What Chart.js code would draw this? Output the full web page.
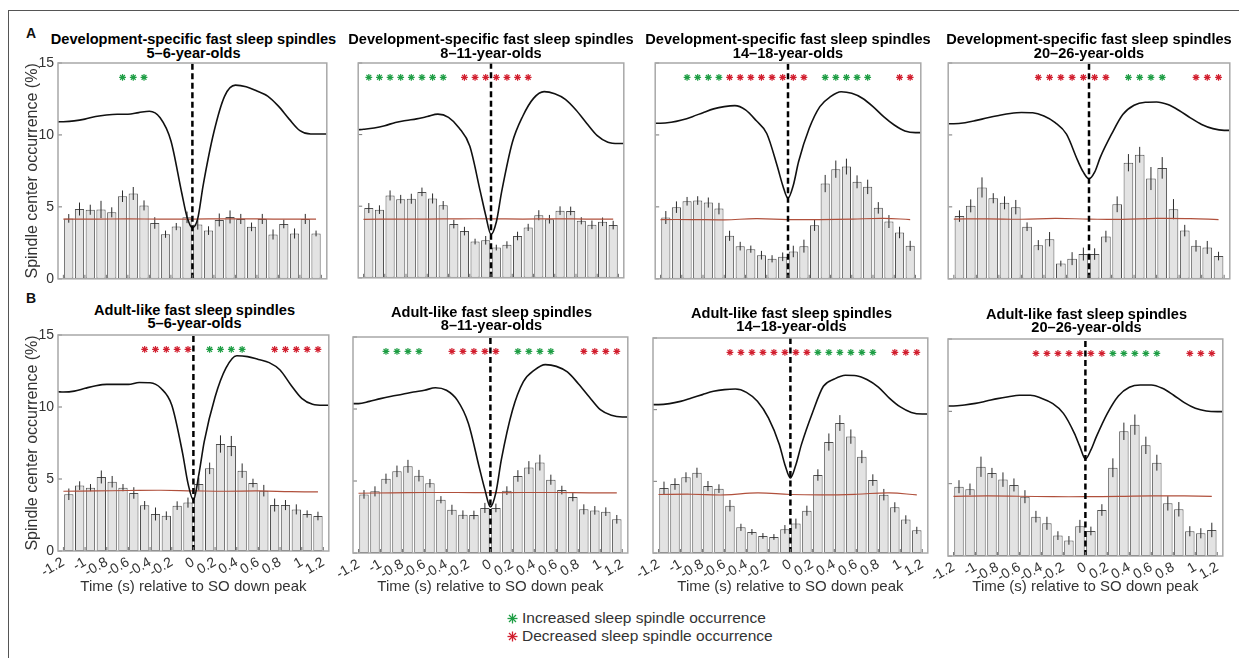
<!DOCTYPE html>
<html>
<head>
<meta charset="utf-8">
<script src="https://cdn.jsdelivr.net/npm/chart.js@4.4.1/dist/chart.umd.min.js"></script>
<style>
  body { margin: 0; background: #fff; width: 1239px; height: 658px; overflow: hidden; position: relative;
         font-family: "Liberation Sans", Arial, Helvetica, sans-serif; }
  .frame { position: absolute; left: 8px; top: 10px; width: 1240px; height: 660px;
           border-left: 1px solid #555; border-top: 1px solid #555; }
  canvas { position: absolute; }
  .letter { position: absolute; font-weight: bold; font-size: 14px; line-height: 16px; color: #111; }
  .ptitle { position: absolute; width: 340px; text-align: center; font-weight: bold; font-size: 14.6px;
            color: #000; white-space: nowrap; }
  .legend { position: absolute; left: 507px; font-size: 15.5px; line-height: 18px; color: #333; white-space: nowrap; }
  .legend svg { vertical-align: -1px; margin-right: 4px; }
</style>
</head>
<body>
<div class="frame"></div>
<div class="letter" style="left:26px;top:25px">A</div>
<div class="letter" style="left:26px;top:290px">B</div>
<div class="legend" style="top:609px">
  <svg width="11" height="11" viewBox="0 0 11 11"><g stroke="#1f9e45" stroke-width="1.3">
    <line x1="0.5" y1="5.5" x2="10.5" y2="5.5"/><line x1="5.5" y1="0.5" x2="5.5" y2="10.5"/>
    <line x1="2" y1="2" x2="9" y2="9"/><line x1="9" y1="2" x2="2" y2="9"/></g></svg>Increased sleep spindle occurrence
</div>
<div class="legend" style="top:627px">
  <svg width="11" height="11" viewBox="0 0 11 11"><g stroke="#d21f2f" stroke-width="1.3">
    <line x1="0.5" y1="5.5" x2="10.5" y2="5.5"/><line x1="5.5" y1="0.5" x2="5.5" y2="10.5"/>
    <line x1="2" y1="2" x2="9" y2="9"/><line x1="9" y1="2" x2="2" y2="9"/></g></svg>Decreased sleep spindle occurrence
</div>
<script>
// bins and axes
const binTimes = [-1.15,-1.05,-0.95,-0.85,-0.75,-0.65,-0.55,-0.45,-0.35,-0.25,-0.15,-0.05,
                  0.05,0.15,0.25,0.35,0.45,0.55,0.65,0.75,0.85,0.95,1.05,1.15];
const curveTimes = [-1.25,-1.2,-1.1,-1.0,-0.9,-0.8,-0.7,-0.6,-0.5,-0.4,-0.3,-0.2,-0.1,-0.05,0,
                    0.05,0.1,0.2,0.3,0.4,0.5,0.6,0.7,0.8,0.9,1.0,1.1,1.2,1.25];
const chanceTimes = [-1.2,-0.9,-0.6,-0.3,0,0.3,0.6,0.9,1.15];
const xTicks = [-1.2,-1,-0.8,-0.6,-0.4,-0.2,0,0.2,0.4,0.6,0.8,1,1.2];
const yTicks = [0,5,10,15];
const sigLevel = 14;
const rowTitles = ['Development-specific fast sleep spindles', 'Adult-like fast sleep spindles'];
const groups = ['5\u20136-year-olds', '8\u201311-year-olds', '14\u201318-year-olds', '20\u201326-year-olds'];

// A: development-specific spindles
const dev56Occ = [4.2,4.85,4.8,4.82,4.62,5.74,5.93,5.1,3.88,3.1,3.63,4.27,3.77,3.35,4.09,4.3,4.16,3.61,4.16,3.08,3.81,3.15,4.16,3.15];
const dev56Err = [0.3,0.45,0.35,0.6,0.35,0.4,0.45,0.35,0.4,0.25,0.25,0.4,0.35,0.3,0.45,0.45,0.35,0.3,0.35,0.35,0.3,0.35,0.35,0.2];
const dev56Wave = [10.91,10.92,10.98,11.1,11.28,11.39,11.44,11.44,11.55,11.65,11.2,9.6,6.0,4.3,3.55,4.2,6.5,10.2,12.7,13.46,13.35,13.05,12.7,12.0,11.1,10.3,10.06,10.06,10.06];
const dev56Chance = [4.15,4.15,4.16,4.15,4.15,4.17,4.16,4.15,4.15];
const dev56Up = [-0.65,-0.55,-0.45];
const dev56Down = [];

const dev811Occ = [4.87,4.76,5.75,5.49,5.52,6.0,5.54,5.06,3.75,3.26,2.53,2.62,2.11,2.3,2.92,3.52,4.37,4.09,4.69,4.67,3.98,3.7,3.91,3.68];
const dev811Err = [0.35,0.3,0.35,0.3,0.35,0.3,0.35,0.3,0.3,0.3,0.2,0.3,0.2,0.25,0.3,0.25,0.35,0.3,0.3,0.3,0.25,0.3,0.3,0.3];
const dev811Wave = [10.34,10.37,10.46,10.62,10.85,10.99,11.1,11.26,11.43,11.2,10.46,9.2,6.0,4.37,3.03,3.9,6.0,9.43,11.3,12.53,13.0,12.85,12.46,11.72,10.8,9.93,9.47,9.38,9.38];
const dev811Chance = [4.08,4.1,4.1,4.12,4.12,4.1,4.12,4.1,4.1];
const dev811Up = [-1.15,-1.05,-0.95,-0.85,-0.75,-0.65,-0.55,-0.45];
const dev811Down = [-0.25,-0.15,-0.05,0.05,0.15,0.25,0.35];

const dev1418Occ = [4.26,4.98,5.39,5.44,5.3,4.88,2.99,2.27,2.06,1.64,1.39,1.53,1.9,2.27,3.73,6.62,7.62,7.8,6.74,6.39,4.93,3.98,3.22,2.29];
const dev1418Err = [0.45,0.4,0.3,0.3,0.35,0.4,0.35,0.3,0.25,0.3,0.25,0.3,0.4,0.45,0.4,0.6,0.6,0.55,0.45,0.5,0.4,0.45,0.4,0.35];
const dev1418Wave = [10.81,10.81,10.88,11.04,11.27,11.55,11.81,11.97,12.04,11.74,11.0,10.1,7.8,6.5,5.6,6.5,8.15,10.46,11.97,12.66,13.0,12.89,12.55,11.97,11.27,10.69,10.28,10.16,10.16];
const dev1418Chance = [4.12,4.12,4.1,4.18,4.12,4.12,4.15,4.2,4.12];
const dev1418Up = [-0.95,-0.85,-0.75,-0.65,0.35,0.45,0.55,0.65,0.75];
const dev1418Down = [-0.55,-0.45,-0.35,-0.25,-0.15,-0.05,0.05,0.15,1.05,1.15];

const dev2026Occ = [4.36,5.07,6.35,5.6,5.28,4.98,3.62,2.34,2.75,1.06,1.4,1.72,1.72,2.94,5.18,8.07,8.62,6.97,7.71,4.84,3.35,2.29,2.18,1.58];
const dev2026Err = [0.4,0.45,0.7,0.35,0.45,0.5,0.3,0.35,0.5,0.2,0.45,0.45,0.4,0.4,0.55,0.6,0.55,0.8,0.75,0.7,0.4,0.4,0.45,0.3];
const dev2026Wave = [10.78,10.78,10.85,11.01,11.19,11.35,11.49,11.56,11.54,11.31,10.85,10.05,8.21,7.41,6.95,7.41,8.44,10.05,11.42,12.06,12.27,12.29,12.11,11.7,11.19,10.73,10.44,10.32,10.32];
const dev2026Chance = [4.15,4.17,4.14,4.2,4.15,4.13,4.2,4.18,4.12];
const dev2026Up = [0.35,0.45,0.55,0.65];
const dev2026Down = [-0.45,-0.35,-0.25,-0.15,-0.05,0.05,0.15,0.95,1.05,1.15];

// B: adult-like spindles
const adult56Occ = [3.94,4.54,4.4,5.14,4.81,4.4,4.03,3.17,2.57,2.45,3.15,3.36,4.65,5.74,7.43,7.29,5.58,4.72,4.19,3.19,3.19,2.89,2.57,2.43];
const adult56Err = [0.4,0.3,0.25,0.45,0.4,0.25,0.4,0.3,0.45,0.3,0.3,0.35,0.45,0.4,0.6,0.7,0.5,0.3,0.4,0.45,0.35,0.35,0.25,0.3];
const adult56Wave = [11.06,11.04,11.1,11.3,11.48,11.57,11.57,11.57,11.7,11.68,11.3,10.14,6.8,4.7,3.54,5.3,7.6,10.7,12.7,13.56,13.5,13.3,13.08,12.57,11.53,10.6,10.19,10.12,10.12];
const adult56Chance = [4.15,4.17,4.2,4.22,4.18,4.15,4.17,4.12,4.1];
const adult56Up = [0.15,0.25,0.35,0.45];
const adult56Down = [-0.45,-0.35,-0.25,-0.15,-0.05,0.75,0.85,0.95,1.05,1.15];

const adult811Occ = [4.07,4.28,5.16,5.67,6.02,5.37,4.84,3.7,3.0,2.66,2.64,3.13,3.13,4.33,5.35,5.93,6.28,5.09,4.37,3.89,3.03,2.96,2.87,2.34];
const adult811Err = [0.3,0.35,0.35,0.4,0.45,0.4,0.3,0.25,0.35,0.3,0.3,0.35,0.3,0.3,0.4,0.45,0.55,0.35,0.3,0.3,0.35,0.3,0.3,0.3];
const adult811Wave = [10.37,10.37,10.53,10.72,10.88,11.02,11.18,11.3,11.48,11.3,10.6,9.0,5.9,4.4,3.19,4.2,6.5,9.9,11.9,12.7,13.08,12.96,12.57,11.76,10.83,9.95,9.56,9.44,9.44];
const adult811Chance = [4.15,4.18,4.2,4.2,4.19,4.2,4.2,4.18,4.18];
const adult811Up = [-0.95,-0.85,-0.75,-0.65,0.25,0.35,0.45,0.55];
const adult811Down = [-0.35,-0.25,-0.15,-0.05,0.05,0.85,0.95,1.05,1.15];

const adult1418Occ = [4.53,4.81,5.28,5.6,4.67,4.49,3.3,1.79,1.47,1.19,1.12,1.65,2.05,2.95,5.44,7.74,9.07,8.12,6.72,5.09,4.07,3.19,2.33,1.58];
const adult1418Err = [0.45,0.4,0.35,0.35,0.35,0.3,0.4,0.25,0.2,0.2,0.2,0.3,0.35,0.35,0.4,0.6,0.55,0.5,0.45,0.4,0.4,0.35,0.3,0.25];
const adult1418Wave = [10.35,10.35,10.42,10.58,10.81,11.05,11.28,11.4,11.44,11.21,10.58,9.42,7.56,6.16,5.23,6.16,7.56,9.77,11.63,12.14,12.4,12.37,12.09,11.58,10.81,10.19,9.81,9.7,9.7];
const adult1418Chance = [4.08,4.1,4.05,4.2,4.08,4.05,4.1,4.2,4.05];
const adult1418Up = [0.25,0.35,0.45,0.55,0.65,0.75];
const adult1418Down = [-0.55,-0.45,-0.35,-0.25,-0.15,-0.05,0.05,0.15,0.95,1.05,1.15];

const adult2026Occ = [4.79,4.61,6.17,5.74,5.28,4.91,4.1,2.72,2.26,1.41,1.08,2.05,1.73,3.18,6.1,8.62,9.08,7.65,6.45,3.64,3.23,1.71,1.57,1.8];
const adult2026Err = [0.45,0.4,0.7,0.35,0.5,0.45,0.45,0.4,0.45,0.3,0.3,0.45,0.3,0.4,0.65,0.6,0.7,0.6,0.55,0.5,0.5,0.35,0.35,0.5];
const adult2026Wave = [10.37,10.37,10.44,10.55,10.71,10.88,11.01,11.11,11.11,10.9,10.55,9.86,8.48,7.56,6.7,7.33,8.25,9.86,11.06,11.66,11.82,11.82,11.59,11.13,10.6,10.21,10.02,9.98,9.98];
const adult2026Chance = [4.12,4.15,4.13,4.1,4.1,4.12,4.16,4.15,4.12];
const adult2026Up = [0.25,0.35,0.45,0.55,0.65];
const adult2026Down = [-0.45,-0.35,-0.25,-0.15,-0.05,0.05,0.15,0.95,1.05,1.15];

// panel placement (plot area in page pixels)
const panels = [
  {row:0, col:0, L:58,  T:63,  R:329,  B:281, occ:dev56Occ,     err:dev56Err,     wave:dev56Wave,     chance:dev56Chance,     up:dev56Up,     down:dev56Down},
  {row:0, col:1, L:356, T:63,  R:626,  B:280, occ:dev811Occ,    err:dev811Err,    wave:dev811Wave,    chance:dev811Chance,    up:dev811Up,    down:dev811Down},
  {row:0, col:2, L:653, T:63,  R:923,  B:281, occ:dev1418Occ,   err:dev1418Err,   wave:dev1418Wave,   chance:dev1418Chance,   up:dev1418Up,   down:dev1418Down},
  {row:0, col:3, L:946, T:63,  R:1232, B:281, occ:dev2026Occ,   err:dev2026Err,   wave:dev2026Wave,   chance:dev2026Chance,   up:dev2026Up,   down:dev2026Down},
  {row:1, col:0, L:58,  T:335, R:331,  B:551, occ:adult56Occ,   err:adult56Err,   wave:adult56Wave,   chance:adult56Chance,   up:adult56Up,   down:adult56Down},
  {row:1, col:1, L:353, T:337, R:630,  B:553, occ:adult811Occ,  err:adult811Err,  wave:adult811Wave,  chance:adult811Chance,  up:adult811Up,  down:adult811Down},
  {row:1, col:2, L:653, T:338, R:930,  B:553, occ:adult1418Occ, err:adult1418Err, wave:adult1418Wave, chance:adult1418Chance, up:adult1418Up, down:adult1418Down},
  {row:1, col:3, L:948, T:339, R:1225, B:556, occ:adult2026Occ, err:adult2026Err, wave:adult2026Wave, chance:adult2026Chance, up:adult2026Up, down:adult2026Down}
];

const FONT = '"Liberation Sans", Arial, Helvetica, sans-serif';
Chart.defaults.font.family = FONT;
const GREEN = '#1f9e45';
const RED = '#d21f2f';
const X_BOTTOM = 600;   // bottom edge of lower-row canvases

// error bars, inward ticks and the plot frame
function makeDecor(p) {
  return {
    id: 'decor',
    afterDatasetDraw(chart, args) {
      if (args.index !== 0) return;
      const {ctx, scales: {x, y}} = chart;
      ctx.save();
      ctx.strokeStyle = '#2b2b2b';
      ctx.lineWidth = 1;
      p.occ.forEach((v, i) => {
        const px = x.getPixelForValue(binTimes[i]);
        ctx.beginPath();
        ctx.moveTo(px, y.getPixelForValue(v - p.err[i]));
        ctx.lineTo(px, y.getPixelForValue(v + p.err[i]));
        ctx.stroke();
      });
      ctx.restore();
    },
    afterDraw(chart) {
      const {ctx, chartArea: a, scales: {x, y}} = chart;
      ctx.save();
      ctx.strokeStyle = '#777';
      ctx.lineWidth = 1;
      yTicks.forEach(v => {
        const py = y.getPixelForValue(v);
        ctx.beginPath(); ctx.moveTo(a.left, py); ctx.lineTo(a.left + 4, py); ctx.stroke();
      });
      xTicks.forEach(v => {
        const px = x.getPixelForValue(v);
        ctx.beginPath(); ctx.moveTo(px, a.bottom); ctx.lineTo(px, a.bottom - 4); ctx.stroke();
      });
      ctx.strokeStyle = '#a8a8a8';
      ctx.lineWidth = 1.5;
      ctx.strokeRect(a.left, a.top, a.right - a.left, a.bottom - a.top);
      ctx.restore();
    }
  };
}

panels.forEach(p => {
  // two-line panel title, centred over the plot
  const t = document.createElement('div');
  t.className = 'ptitle';
  const lh = p.row === 0 ? 14 : 13;
  t.style.lineHeight = lh + 'px';
  t.style.left = ((p.L + p.R) / 2 - 170) + 'px';
  t.style.top = (p.T - (p.row === 0 ? 24 : 25) - lh / 2) + 'px';
  t.innerHTML = rowTitles[p.row] + '<br>' + groups[p.col];
  document.body.appendChild(t);

  // the left gutter is always taken by the y scale, so the plot edge lands on p.L
  const left = p.col === 0 ? 10 : p.L - (p.row === 1 ? 28 : 3);
  const top = p.T - 10;
  const width = p.R + 3 - left;
  const height = (p.row === 0 ? p.B + 3 : X_BOTTOM) - top;
  const cv = document.createElement('canvas');
  cv.width = width; cv.height = height;
  cv.style.left = left + 'px'; cv.style.top = top + 'px';
  cv.style.width = width + 'px'; cv.style.height = height + 'px';
  document.body.appendChild(cv);

  const star = (times, color) => ({
    type: 'line', data: times.map(t => ({x: t, y: sigLevel})), showLine: false,
    pointStyle: 'star', pointRadius: 3.4, borderColor: color, pointBorderColor: color, pointBorderWidth: 1.2, order: 1
  });

  const xScale = {
    type: 'linear', min: -1.25, max: 1.25, offset: false, display: p.row === 1,
    grid: {display: false, drawTicks: false}, border: {display: false},
    afterBuildTicks: s => { s.ticks = xTicks.map(v => ({value: v})); },
    ticks: {autoSkip: false, minRotation: 30, maxRotation: 30, padding: 3,
            font: {size: 14}, color: '#333', callback: v => String(v)},
    title: {display: true, text: 'Time (s) relative to SO down peak', font: {size: 15}, color: '#333',
            padding: {top: 0, bottom: 4}}
  };
  if (p.row === 1) {
    xScale.afterFit = s => { s.height = X_BOTTOM - p.B; s.paddingLeft = 0; s.paddingRight = 0; };
  }

  new Chart(cv, {
    type: 'bar',
    data: {
      datasets: [
        {type: 'bar', data: binTimes.map((t, i) => ({x: t, y: p.occ[i]})),
         backgroundColor: '#e3e3e3', borderColor: '#505050', borderWidth: 1, borderSkipped: false,
         barPercentage: 0.86, categoryPercentage: 1, order: 6},
        {type: 'line', data: chanceTimes.map((t, i) => ({x: t, y: p.chance[i]})),
         borderColor: '#b0503c', borderWidth: 1.2, pointRadius: 0, tension: 0.4, order: 5},
        {type: 'line', data: curveTimes.map((t, i) => ({x: t, y: p.wave[i]})),
         borderColor: '#111', borderWidth: 1.6, pointRadius: 0, cubicInterpolationMode: 'monotone', order: 4},
        {type: 'line', data: [{x: 0, y: 0}, {x: 0, y: 15}],
         borderColor: '#000', borderWidth: 2.5, borderDash: [6, 3.5], pointRadius: 0, order: 3},
        star(p.up, GREEN),
        star(p.down, RED)
      ]
    },
    options: {
      responsive: false,
      animation: false,
      events: [],
      layout: {padding: {left: 0, right: 3, top: p.T - top, bottom: p.row === 0 ? 3 : 0}},
      plugins: {legend: {display: false}, tooltip: {enabled: false}, title: {display: false}},
      scales: {
        x: xScale,
        y: {
          min: 0, max: 15, display: true,
          grid: {display: false, drawTicks: false}, border: {display: false},
          afterBuildTicks: s => { s.ticks = yTicks.map(v => ({value: v})); },
          afterFit: s => { s.width = p.L - left; s.paddingTop = 0; s.paddingBottom = 0; },
          ticks: {display: p.col === 0, padding: 4, font: {size: 14}, color: '#333'},
          title: {display: p.col === 0, text: 'Spindle center occurrence (%)', font: {size: 16}, color: '#333',
                  padding: {top: 13.4, bottom: 0}}
        }
      }
    },
    plugins: [makeDecor(p)]
  });
});
</script>
</body>
</html>
